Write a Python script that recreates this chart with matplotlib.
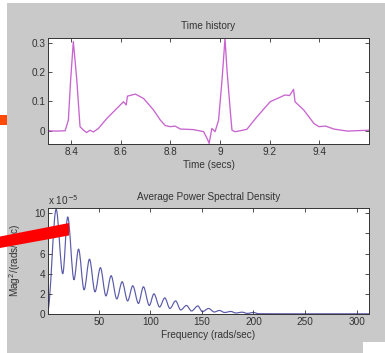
import matplotlib
matplotlib.use("Agg")
import matplotlib.pyplot as plt
from matplotlib.patches import Rectangle, Polygon, PathPatch
from matplotlib.path import Path

# ---- data ----
time_s = [8.307, 8.340, 8.376, 8.389, 8.398, 8.409, 8.423, 8.436, 8.450, 8.463,
          8.476, 8.490, 8.510, 8.544, 8.584, 8.611, 8.622, 8.627, 8.659, 8.692,
          8.732, 8.759, 8.779, 8.799, 8.819, 8.840, 8.893, 8.934, 8.950, 8.956,
          8.967, 8.980, 8.994, 9.008, 9.020, 9.028, 9.041, 9.048, 9.060, 9.080,
          9.108, 9.149, 9.202, 9.262, 9.280, 9.296, 9.302, 9.337, 9.378, 9.398,
          9.425, 9.458, 9.512, 9.600]
signal = [0.000, -0.001, 0.000, 0.036, 0.170, 0.304, 0.173, 0.014, 0.002, -0.006,
          0.002, -0.004, 0.008, 0.042, 0.076, 0.099, 0.088, 0.118, 0.125, 0.110,
          0.071, 0.037, 0.018, 0.014, 0.016, 0.006, 0.004, -0.003, -0.030, -0.043,
          0.008, -0.003, 0.036, 0.173, 0.315, 0.207, 0.070, 0.002, -0.003, 0.000,
          0.005, 0.048, 0.099, 0.122, 0.120, 0.141, 0.099, 0.071, 0.025, 0.014,
          0.016, 0.006, -0.001, 0.002]

# PSD extrema (peaks / troughs), frequency in rad/s, value in units of 1e-5
freq = [0.5, 8.7, 15.1, 19.9, 26.0, 30.4, 35.8, 41.0, 46.4, 51.6, 57.0, 62.0,
        67.5, 72.7, 78.0, 83.0, 88.5, 93.3, 99.0, 103.5, 109.0, 114.0, 119.0,
        124.5, 129.5, 135.0, 140.0, 146.0, 150.5, 156.5, 162.0, 167.0, 172.0,
        178.0, 183.0, 189.0, 194.0, 200.0, 205.0, 230.0, 312.0]
psd_e5 = [0.3, 10.4, 4.0, 9.65, 3.4, 6.45, 2.4, 5.45, 2.2, 4.6, 1.8, 3.8,
          1.5, 3.2, 1.3, 2.8, 1.05, 2.7, 0.85, 2.0, 0.7, 1.6, 0.55,
          1.3, 0.4, 0.85, 0.3, 0.8, 0.23, 0.55, 0.2, 0.35, 0.15,
          0.25, 0.1, 0.18, 0.06, 0.15, 0.03, 0.02, 0.02]

t_ticks = [8.4, 8.6, 8.8, 9.0, 9.2, 9.4]
t_labels = ["8.4", "8.6", "8.8", "9", "9.2", "9.4"]
y1_ticks = [0, 0.1, 0.2, 0.3]
y1_labels = ["0", "0.1", "0.2", "0.3"]
f_ticks = [50, 100, 150, 200, 250, 300]
y2_ticks = [0, 2, 4, 6, 8, 10]

plt.rcParams['font.family'] = ['Liberation Sans', 'DejaVu Sans']
W, H = 385, 353
fig = plt.figure(figsize=(W / 100, H / 100), dpi=100, facecolor='white')

def fx(px):
    return px / W

def fy(py):
    return 1 - py / H

# grey panel
fig.patches.append(Rectangle((fx(7), 0), 1 - fx(7), fy(3), transform=fig.transFigure,
                             facecolor='#c9c9c9', edgecolor='none', zorder=-10))
fig.patches.append(Rectangle((fx(363), 0), 1 - fx(363), fy(342), transform=fig.transFigure,
                             facecolor='white', edgecolor='none', zorder=-9))

txtc = '#333333'
fs = 7.2

ax1 = fig.add_axes([fx(48), fy(144), fx(369) - fx(48), fy(38) - fy(144)])
ax2 = fig.add_axes([fx(48), fy(314), fx(369) - fx(48), fy(207.7) - fy(314)])

ax1.plot(time_s, signal, color='#c864cf', lw=0.95)
ax1.set_xlim(8.307, 9.60)
ax1.set_ylim(-0.045, 0.316)
ax1.set_xticks(t_ticks)
ax1.set_xticklabels(t_labels)
ax1.set_yticks(y1_ticks)
ax1.set_yticklabels(y1_labels)
ax1.text(0.5, 1.113, "Time history", transform=ax1.transAxes, ha='center', va='center',
         fontsize=fs, color=txtc)
ax1.set_xlabel("Time (secs)", fontsize=fs, color=txtc)
ax1.xaxis.set_label_coords(0.5, -0.155)

# smooth curve through PSD extrema (horizontal tangents at each extremum)
verts = [(freq[0], psd_e5[0])]
codes = [Path.MOVETO]
for i in range(1, len(freq)):
    dx = freq[i] - freq[i - 1]
    verts += [(freq[i - 1] + dx / 3, psd_e5[i - 1]), (freq[i] - dx / 3, psd_e5[i]),
              (freq[i], psd_e5[i])]
    codes += [Path.CURVE4] * 3
ax2.add_patch(PathPatch(Path(verts, codes), fill=False, edgecolor='#5a5aaa', lw=0.85))
ax2.set_xlim(0.8, 312)
ax2.set_ylim(0, 10.56)
ax2.set_xticks(f_ticks)
ax2.set_yticks(y2_ticks)
ax2.text(0.5, 1.103, "Average Power Spectral Density", transform=ax2.transAxes,
         ha='center', va='center', fontsize=fs, color=txtc)
ax2.text(0.0, 1.075, "x 10$^{-5}$", transform=ax2.transAxes, ha='left', va='center',
         fontsize=fs, color=txtc)
ax2.set_xlabel("Frequency (rads/sec)", fontsize=fs, color=txtc)
ax2.xaxis.set_label_coords(0.5, -0.15)
ax2.set_ylabel("Mag$^2$/(rads/sec)", fontsize=fs, color=txtc)
ax2.yaxis.set_label_coords(-0.078, 0.5)

for ax in (ax1, ax2):
    ax.set_facecolor('white')
    ax.tick_params(direction='in', top=True, right=True, length=3, width=0.6,
                   labelsize=fs, labelcolor=txtc, color='#333333', pad=2)
    for s in ax.spines.values():
        s.set_linewidth(0.7)
        s.set_color('#333333')

# overlay annotations
fig.patches.append(Rectangle((0, fy(125)), fx(7), fy(115) - fy(125), transform=fig.transFigure,
                             facecolor='#ff4a0a', edgecolor='none', zorder=10))
fig.patches.append(Polygon([(0, fy(236.5)), (0, fy(248)), (fx(69), fy(235.5)), (fx(69), fy(223))],
                           closed=True, transform=fig.transFigure, facecolor='#ff0000',
                           edgecolor='none', zorder=10))

fig.savefig("out.png", dpi=100, facecolor='white')
